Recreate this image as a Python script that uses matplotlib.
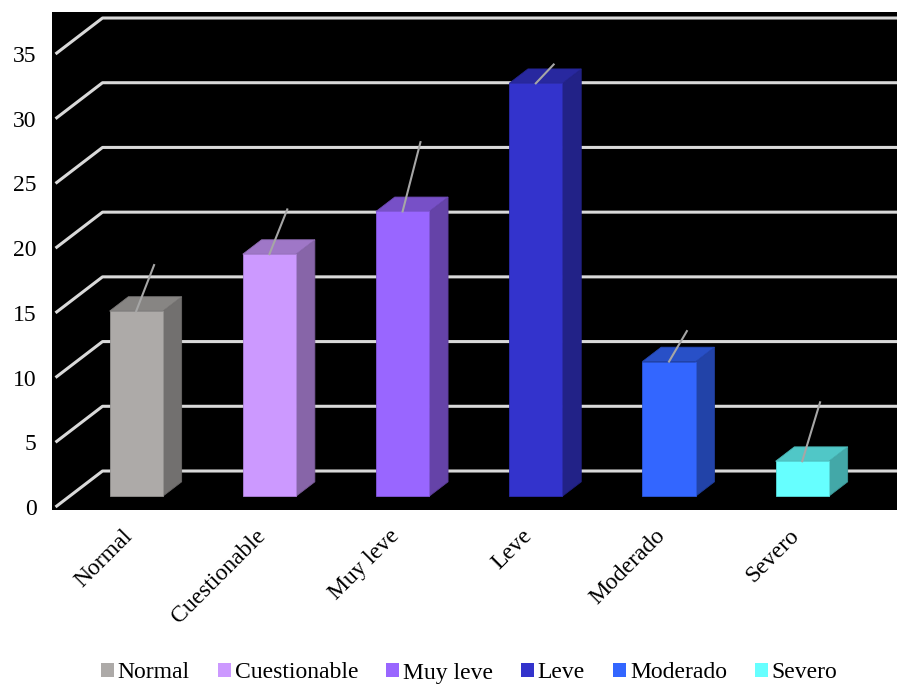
import numpy as np
import matplotlib.pyplot as plt
from matplotlib.patches import Polygon, Patch
from matplotlib.transforms import ScaledTranslation

# data (percent of cases)
categories = ['Normal', 'Cuestionable', 'Muy leve', 'Leve', 'Moderado', 'Severo']
values = [14.3, 18.7, 22.0, 31.9, 10.4, 2.7]
errors = [2.5, 2.4, 4.3, 0.4, 1.3, 3.5]
colors = ['#ADAAA8', '#CC99FF', '#9966FF', '#3333CC', '#3366FF', '#66FFFF']
yticks = [0, 5, 10, 15, 20, 25, 30, 35]

plt.rcParams['font.family'] = ['Liberation Serif', 'DejaVu Serif']

fig = plt.figure(figsize=(8.99, 6.88), dpi=100)
ax = fig.add_axes([52/899, 1 - 510/688, 845/899, 498/688])
ax.set_facecolor('black')
ax.set_xlim(-0.5263, 5.8175)
ax.set_ylim(-0.2318, 38.245)
for s in ax.spines.values():
    s.set_visible(False)

# 3d depth offset (full depth of the floor) in data units
DX, DY = 0.3529, 2.781


def proj(x, y, d):
    return x + d * DX, y + d * DY


def shade(c, f):
    r, g, b = [int(c[i:i + 2], 16) / 255 for i in (1, 3, 5)]
    return (r * f, g * f, b * f)


# gridlines: diagonal on the left wall, then along the back wall
xmax = ax.get_xlim()[1]
for v in yticks:
    x0, y0 = proj(-0.5, v, 0)
    x1, y1 = proj(-0.5, v, 1)
    ax.plot([x0, x1, xmax], [y0, y1, y1], color='#D9D9D9', lw=2.2,
            solid_capstyle='butt', zorder=1)

# bars as boxes between depth 0.3 and 0.7
w = 0.2
d0, d1 = 0.3, 0.7
for i, (v, e, c) in enumerate(zip(values, errors, colors)):
    fl = proj(i - w, 0, d0)
    fr = proj(i + w, 0, d0)
    tl = proj(i - w, v, d0)
    tr = proj(i + w, v, d0)
    br = proj(i + w, 0, d1)
    btr = proj(i + w, v, d1)
    btl = proj(i - w, v, d1)
    ax.add_patch(Polygon([fr, br, btr, tr], closed=True, fc=shade(c, 0.66),
                         ec=shade(c, 0.6), lw=0.6, zorder=3))
    ax.add_patch(Polygon([tl, tr, btr, btl], closed=True, fc=shade(c, 0.78),
                         ec=shade(c, 0.7), lw=0.6, zorder=3))
    ax.add_patch(Polygon([fl, fr, tr, tl], closed=True, fc=c,
                         ec=shade(c, 0.85), lw=0.6, zorder=4))
    # error line
    sx, sy = proj(i, v, d0)
    ex, ey = proj(i, v + e, d0 + 0.38)
    ax.plot([sx, ex], [sy, ey], color='#A6A6A6', lw=1.5, zorder=5)

ax.set_yticks(yticks)
ax.set_yticklabels([str(t) for t in yticks], fontsize=17)
ax.tick_params(axis='y', length=0, pad=11)
ax.set_xticks(range(len(categories)))
ax.set_xticklabels(categories, fontsize=17, rotation=45, ha='right',
                   va='top', rotation_mode='anchor')
ax.tick_params(axis='x', length=0, pad=11)

handles = [Patch(facecolor=c, edgecolor='none') for c in colors]
fig.legend(handles, categories, loc='center', bbox_to_anchor=(0.522, 1 - 673/688),
           ncol=6, frameon=False, fontsize=17, handlelength=0.55, handleheight=0.55,
           handletextpad=0.15, columnspacing=1.2, borderaxespad=0)

fig.savefig('out.png', dpi=100)
